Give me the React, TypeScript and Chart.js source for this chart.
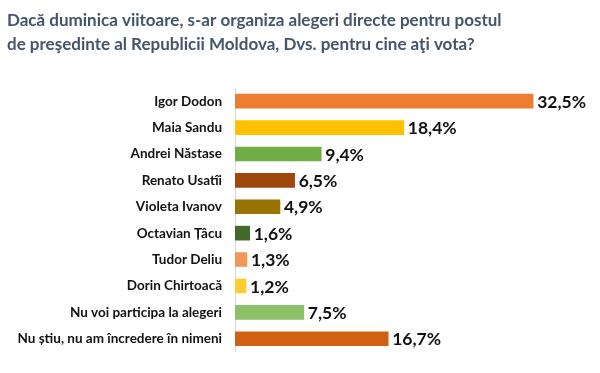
import React, { useEffect, useRef } from "react";
import { Chart, registerables } from "chart.js";

Chart.register(...registerables);

const titleLines = [
  "Dacă duminica viitoare, s-ar organiza alegeri directe pentru postul",
  "de preşedinte al Republicii Moldova, Dvs. pentru cine aţi vota?",
];

const categories = [
  "Igor Dodon",
  "Maia Sandu",
  "Andrei Năstase",
  "Renato Usatîi",
  "Violeta Ivanov",
  "Octavian Țâcu",
  "Tudor Deliu",
  "Dorin Chirtoacă",
  "Nu voi participa la alegeri",
  "Nu știu, nu am încredere în nimeni",
];

const values = [32.5, 18.4, 9.4, 6.5, 4.9, 1.6, 1.3, 1.2, 7.5, 16.7];

const barColors = [
  "#ED7D31",
  "#FFC000",
  "#70AD47",
  "#9E480E",
  "#997300",
  "#43682B",
  "#F1975A",
  "#FFCD33",
  "#8CC168",
  "#D26012",
];

const FONT = "Lato, 'Open Sans', 'DejaVu Sans', sans-serif";

const valueLabels = {
  id: "valueLabels",
  afterDatasetsDraw(chart: any) {
    const ctx = chart.ctx;
    const meta = chart.getDatasetMeta(0);
    ctx.save();
    ctx.font = `bold 17.5px ${FONT}`;
    ctx.fillStyle = "#111111";
    ctx.textAlign = "left";
    ctx.textBaseline = "middle";
    meta.data.forEach((bar: any, i: number) => {
      const txt = values[i].toFixed(1).replace(".", ",") + "%";
      ctx.fillText(txt, bar.x + 4, bar.y + 1);
    });
    ctx.restore();
  },
};

export default function App() {
  const ref = useRef<HTMLCanvasElement | null>(null);

  useEffect(() => {
    if (!ref.current) return;
    const chart = new Chart(ref.current, {
      type: "bar",
      data: {
        labels: categories,
        datasets: [
          {
            data: values,
            backgroundColor: barColors,
            barThickness: 14,
          },
        ],
      },
      options: {
        indexAxis: "y",
        animation: false,
        responsive: false,
        maintainAspectRatio: false,
        layout: { padding: { left: 7, right: 10, top: 0, bottom: 12 } },
        plugins: {
          legend: { display: false },
          tooltip: { enabled: false },
          title: {
            display: true,
            text: titleLines,
            align: "start",
            color: "#44546A",
            font: { family: FONT, size: 17, weight: "bold", lineHeight: 1.412 },
            padding: { top: 9, bottom: 31 },
          },
        },
        scales: {
          x: {
            display: false,
            min: 0,
            max: 38.7,
          },
          y: {
            grid: { display: false, drawTicks: false },
            border: { display: true, color: "#D9D9D9", width: 1 },
            ticks: {
              color: "#111111",
              padding: 13,
              font: { family: FONT, size: 13.5, weight: "bold" },
            },
            afterFit(scale: any) {
              scale.width = 228;
            },
          },
        },
      },
      plugins: [valueLabels],
    });
    return () => chart.destroy();
  }, []);

  return (
    <div style={{ position: "absolute", left: 0, top: 0, width: 600, height: 373, background: "#fff" }}>
      <canvas ref={ref} width={600} height={373} style={{ width: 600, height: 373 }} />
    </div>
  );
}
